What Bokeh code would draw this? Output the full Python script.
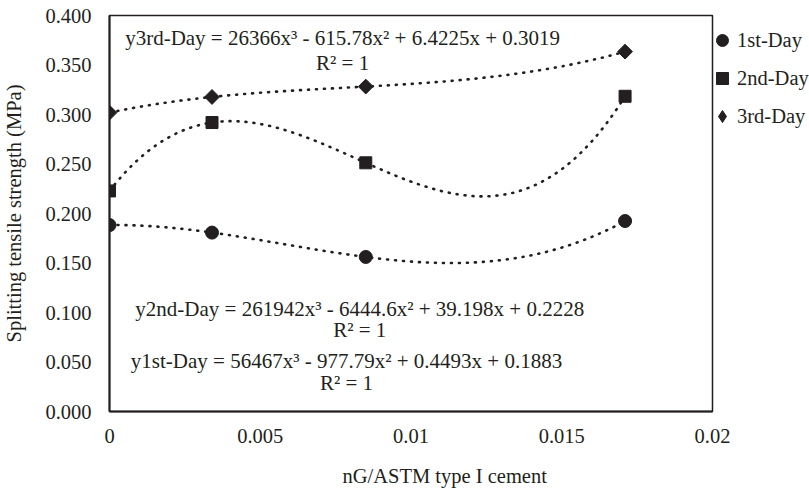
import numpy as np
from bokeh.plotting import figure
from bokeh.models import FixedTicker, Label, Legend, LegendItem, Title
from bokeh.embed import file_html
from bokeh.resources import INLINE

# ---- data ----
x_vals = [0.0, 0.0034, 0.0085, 0.0171]
day1 = [0.1883, 0.1807, 0.1561, 0.1924]
day2 = [0.2228, 0.2919, 0.2512, 0.3184]
day3 = [0.3019, 0.3177, 0.3282, 0.3635]
series_names = ["1st-Day", "2nd-Day", "3rd-Day"]
eq_texts = [
    "y1st-Day = 56467x³ - 977.79x² + 0.4493x + 0.1883",
    "y2nd-Day = 261942x³ - 6444.6x² + 39.198x + 0.2228",
    "y3rd-Day = 26366x³ - 615.78x² + 6.4225x + 0.3019",
]
r2_text = "R² = 1"
x_ticks = [0, 0.005, 0.01, 0.015, 0.02]
x_tick_labels = ["0", "0.005", "0.01", "0.015", "0.02"]
y_ticks = [0, 0.05, 0.1, 0.15, 0.2, 0.25, 0.3, 0.35, 0.4]
y_tick_labels = ["0.000", "0.050", "0.100", "0.150", "0.200", "0.250", "0.300", "0.350", "0.400"]
x_title = "nG/ASTM type I cement"
y_title = "Splitting tensile strength (MPa)"

# ---- styling ----
INK = "#231f20"
FONT = "Liberation Serif"
FS = "20.5px"
FS_EQ = "21px"

p = figure(frame_width=603, frame_height=396, x_range=(0, 0.02), y_range=(0, 0.4),
           output_backend="svg", toolbar_location=None,
           min_border_left=107, min_border_right=99, min_border_top=15, min_border_bottom=83)
p.xgrid.visible = False
p.ygrid.visible = False
p.outline_line_color = INK
p.outline_line_width = 1.5
p.background_fill_color = "white"
p.border_fill_color = "white"

for ax in (p.xaxis[0], p.yaxis[0]):
    ax.axis_line_color = INK
    ax.axis_line_width = 2
    ax.major_tick_line_color = None
    ax.minor_tick_line_color = None
    ax.major_tick_out = 0
    ax.major_tick_in = 0
    ax.minor_tick_out = 0
    ax.major_label_text_font = FONT
    ax.major_label_text_font_size = FS
    ax.major_label_text_color = INK
    ax.axis_label_text_font = FONT
    ax.axis_label_text_font_size = FS
    ax.axis_label_text_font_style = "normal"
    ax.axis_label_text_color = INK

p.xaxis[0].ticker = FixedTicker(ticks=x_ticks)
p.xaxis[0].major_label_overrides = {t: l for t, l in zip(x_ticks, x_tick_labels)}
p.xaxis[0].major_label_standoff = 17
p.yaxis[0].ticker = FixedTicker(ticks=y_ticks)
p.yaxis[0].major_label_overrides = {t: l for t, l in zip(y_ticks, y_tick_labels)}
p.yaxis[0].major_label_standoff = 18
p.yaxis[0].axis_label = y_title
p.yaxis[0].axis_label_standoff = 17

# trend lines (cubic fit through points)
all_series = [day1, day2, day3]
markers = [("circle", 13, 0.0), ("square", 12, 0.0), ("square", 10.5, np.pi / 4)]
legend_markers = ["circle", "square", "diamond"]
for ys in all_series:
    coef = np.polyfit(x_vals, ys, 3)
    xs = np.linspace(min(x_vals), max(x_vals), 300)
    p.line(xs, np.polyval(coef, xs), line_color=INK, line_width=2.6,
           line_dash="1 7", line_cap="round")
for ys, (mk, sz, ang) in zip(all_series, markers):
    p.scatter(x_vals, ys, marker=mk, size=sz, angle=ang,
              fill_color=INK, line_color=INK)

# legend swatches: placeholder renderers (NaN point, never drawn in the plot)
renderers = []
for mk in legend_markers:
    renderers.append(p.scatter([np.nan], [np.nan], marker=mk, fill_color=INK, line_color=INK))

legend = Legend(items=[LegendItem(label=n, renderers=[r]) for n, r in zip(series_names, renderers)],
                location=(-5, 280), border_line_color=None, background_fill_alpha=0,
                padding=0, margin=0, glyph_width=30, glyph_height=30, label_height=30,
                spacing=8, label_standoff=0, label_text_font=FONT,
                label_text_font_size=FS, label_text_color=INK)
p.add_layout(legend, "right")

# equation annotations
eq_pos = [(0.00786, 0.0515, 0.0283), (0.00830, 0.104, 0.0828), (0.00773, 0.3768, 0.3525)]
for txt, (lx, ly, ry) in zip(eq_texts, eq_pos):
    p.add_layout(Label(x=lx, y=ly, text=txt, text_align="center", text_baseline="middle",
                       text_font=FONT, text_font_size=FS_EQ, text_color=INK))
    p.add_layout(Label(x=lx, y=ry, text=r2_text, text_align="center", text_baseline="middle",
                       text_font=FONT, text_font_size=FS_EQ, text_color=INK))

# x axis title (offset to the right, as in the original)
p.add_layout(Title(text=x_title, align="left", offset=233, standoff=34,
                   text_font=FONT, text_font_size=FS, text_font_style="normal",
                   text_color=INK), "below")

open("out.html", "w").write(file_html(p, INLINE))
